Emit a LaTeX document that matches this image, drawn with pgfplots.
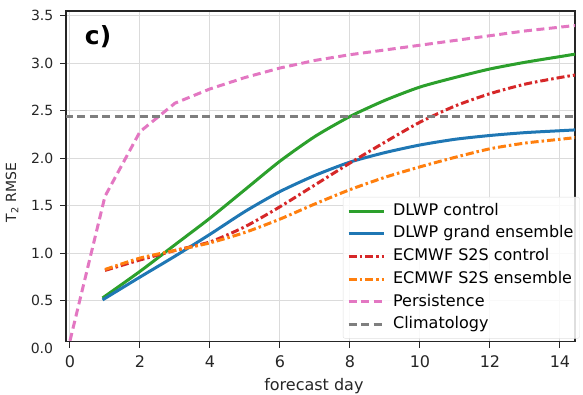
\documentclass[border=0pt]{standalone}
\usepackage{fontspec}
\setmainfont{DejaVu Sans}
\usepackage{pgfplots}
\pgfplotsset{compat=1.18}
\definecolor{tabgreen}{HTML}{2CA02C}
\definecolor{tabblue}{HTML}{1F77B4}
\definecolor{tabred}{HTML}{D62728}
\definecolor{taborange}{HTML}{FF7F0E}
\definecolor{tabpink}{HTML}{E377C2}
\definecolor{tabgray}{HTML}{7F7F7F}
\tikzset{
  dashdotpat/.style={dash pattern=on 8bp off 3bp on 2.5bp off 3bp},
  dashedpat/.style={dash pattern=on 8bp off 4.5bp},
}
\begin{document}
\begin{tikzpicture}[x=1bp,y=1bp]
\begin{axis}[
  at={(66bp,53.3bp)}, anchor=south west,
  scale only axis, width=509bp, height=330.7bp,
  xmin=-0.114, xmax=14.43, ymin=0.07, ymax=3.55,
  xtick={0,2,...,14}, ytick={0.5,1,...,3.5},
  xtick pos=left, ytick pos=left,
  tick align=outside, major tick length=6bp,
  tick style={black!85, line width=1bp},
  axis line style={black!85, line width=1.2bp},
  grid=major, major grid style={black!14, line width=1bp},
  /pgf/number format/assume math mode=true,
  yticklabel style={/pgf/number format/.cd, fixed, fixed zerofill, precision=1, /tikz/.cd,
    font=\fontsize{14bp}{16bp}\selectfont, inner sep=0pt, xshift=-6.5bp, color=black!85},
  xticklabel style={font=\fontsize{16bp}{18bp}\selectfont, inner sep=0pt, yshift=-8bp, color=black!85},
  xlabel={forecast day},
  xlabel style={at={(rel axis cs:0.487,-0.1476)}, anchor=base, font=\fontsize{16bp}{19bp}\selectfont, color=black!85},
  ylabel={T\textsubscript{2} RMSE},
  ylabel style={at={(rel axis cs:-0.106,0.451)}, anchor=center, font=\fontsize{14bp}{16bp}\selectfont, color=black!85},
  legend cell align=left,
  legend style={at={(rel axis cs:0.544,0.4376)}, anchor=north west,
    font=\fontsize{16bp}{19bp}\selectfont, draw=black!12, fill=white, fill opacity=0.85, text opacity=1,
    rounded corners=2bp, inner xsep=4bp, inner ysep=2.5bp, row sep=0pt,
    nodes={text height=12bp, text depth=3.5bp, inner ysep=3.6bp},
    /tikz/every odd column/.append style={column sep=6bp}},
  legend image code/.code={\draw[#1] (0bp,0bp) -- (35bp,0bp);},
  clip=true,
]
\addplot[tabgreen, line width=3bp, smooth, tension=0.4] coordinates {
 (0.93,0.53) (2,0.81) (3,1.09) (4,1.37) (5,1.67) (6,1.97) (7,2.23) (8,2.44)
 (9,2.61) (10,2.75) (11,2.85) (12,2.94) (13,3.01) (14,3.07) (14.5,3.10)};
\addlegendentry{DLWP control}
\addplot[tabblue, line width=3bp, smooth, tension=0.4] coordinates {
 (0.93,0.51) (2,0.75) (3,0.97) (4,1.20) (5,1.44) (6,1.65) (7,1.82) (8,1.96)
 (9,2.06) (10,2.14) (11,2.20) (12,2.24) (13,2.27) (14,2.29) (14.5,2.30)};
\addlegendentry{DLWP grand ensemble}
\addplot[tabred, line width=3bp, dashdotpat, smooth, tension=0.4] coordinates {
 (1,0.82) (2,0.93) (3,1.03) (4,1.12) (5,1.28) (6,1.49) (7,1.72) (8,1.95)
 (9,2.17) (10,2.38) (11,2.55) (12,2.68) (13,2.78) (14,2.85) (14.5,2.88)};
\addlegendentry{ECMWF S2S control}
\addplot[taborange, line width=3bp, dashdotpat, smooth, tension=0.4] coordinates {
 (1,0.83) (2,0.95) (3,1.03) (4,1.11) (5,1.22) (6,1.36) (7,1.52) (8,1.67)
 (9,1.80) (10,1.91) (11,2.01) (12,2.10) (13,2.16) (14,2.20) (14.5,2.22)};
\addlegendentry{ECMWF S2S ensemble}
\addplot[tabpink, line width=3bp, dashedpat] coordinates {
 (0,0.08) (1,1.6) (2,2.28) (3,2.58) (4,2.73) (5,2.85) (6,2.95) (7,3.03) (8,3.09)
 (9,3.14) (10,3.19) (11,3.24) (12,3.29) (13,3.34) (14,3.38) (14.5,3.40)};
\addlegendentry{Persistence}
\addplot[tabgray, line width=3bp, dashedpat] coordinates {
 (-0.5,2.44) (15,2.44)};
\addlegendentry{Climatology}
\node[font=\bfseries\fontsize{25bp}{28bp}\selectfont, anchor=center] at (rel axis cs:0.063,0.921) {c)};
\end{axis}
\node[anchor=east, inner sep=0pt, font=\fontsize{14bp}{16bp}\selectfont, color=black!85] at (53.3bp,46.5bp) {0.0};
\pgfresetboundingbox
\path (0bp,0bp) rectangle (583bp,395bp);
\end{tikzpicture}
\end{document}
